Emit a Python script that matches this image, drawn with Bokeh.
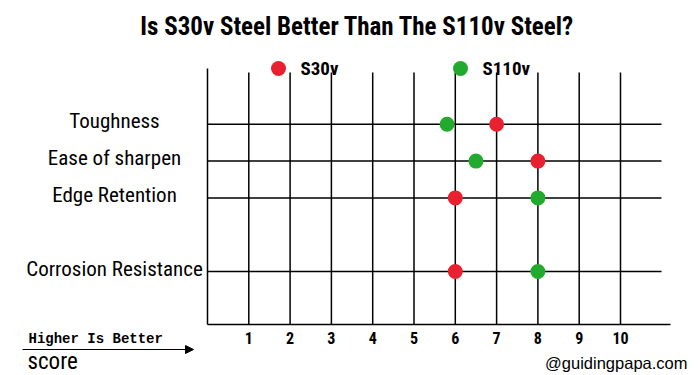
from bokeh.plotting import figure
from bokeh.models import Range1d, Label, Arrow, NormalHead
from bokeh.core.properties import value
from bokeh.embed import file_html
from bokeh.resources import INLINE

# ---------------- data ----------------
categories = ["Toughness", "Ease of sharpen", "Edge Retention", "Corrosion Resistance"]
s30v = [7, 8, 6, 6]
s110v = [5.8, 6.5, 8, 8]
score_ticks = [1, 2, 3, 4, 5, 6, 7, 8, 9, 10]
tick_labels = ["1", "2", "3", "4", "5", "6", "7", "8", "9", "10"]
series_names = ["S30v", "S110v"]
title_text = "Is S30v Steel Better Than The S110v Steel?"

# ---------------- layout ----------------
W, H = 700, 375
PX0, PXU = 207.0, 41.3     # canvas x of score 0, px per score unit
PY0, PYU = 326.2, 36.8     # canvas y of row-slot 0, px per slot


def dx(px):
    return (px - PX0) / PXU


def dy(py):
    return (PY0 - py) / PYU


row_y = [5.5, 4.5, 3.5, 1.5]   # slot of each category (gap above the last)

RED = "#e8202f"
GREEN = "#22aa2e"
F_COND = "Roboto Condensed"

p = figure(width=W, height=H, x_range=Range1d(dx(0), dx(W)),
           y_range=Range1d(dy(H), dy(0)), output_backend="svg",
           toolbar_location=None, min_border=0, x_axis_type=None,
           y_axis_type=None, outline_line_color=None)
p.grid.visible = False

axis_y = dy(324)
p.segment(x0=score_ticks, y0=[axis_y] * len(score_ticks), x1=score_ticks,
          y1=[dy(72)] * len(score_ticks), line_color="black", line_width=1.5)
p.segment(x0=[0], y0=[axis_y], x1=[0], y1=[dy(68)], line_color="black", line_width=1.5)
p.segment(x0=[0] * len(row_y), y0=row_y, x1=[dx(661)] * len(row_y), y1=row_y,
          line_color="black", line_width=1.5)
p.segment(x0=[0], y0=[axis_y], x1=[dx(670)], y1=[axis_y], line_color="black", line_width=1.5)

p.scatter(x=s110v, y=row_y, size=15, fill_color=GREEN, line_color=None)
p.scatter(x=s30v, y=row_y, size=15, fill_color=RED, line_color=None)

p.text(x=score_ticks, y=[dy(337)] * len(score_ticks), text=tick_labels,
       text_align="center", text_baseline="middle", text_font=value(F_COND),
       text_font_style="bold", text_font_size="16px", text_color="black")

p.text(x=[dx(114)] * len(categories), y=row_y, text=categories, y_offset=-3,
       text_align="center", text_baseline="middle", text_font=value(F_COND),
       text_font_size="21px", text_color="black")

p.scatter(x=[dx(278), dx(460)], y=[dy(68), dy(68)], size=15,
          fill_color=[RED, GREEN], line_color=None)
p.text(x=[dx(300), dx(482)], y=[dy(68), dy(68)], text=series_names,
       text_align="left", text_baseline="middle", text_font=value(F_COND),
       text_font_style="bold", text_font_size="19px", text_color="black")

p.add_layout(Label(x=dx(357), y=dy(26), text=title_text, text_align="center",
                   text_baseline="middle", text_font=F_COND, text_font_style="bold",
                   text_font_size="25px", text_color="black"))

p.add_layout(Label(x=dx(28), y=dy(338), text="Higher Is Better", text_align="left",
                   text_baseline="middle", text_font="Liberation Mono",
                   text_font_style="bold", text_font_size="14px", text_color="black"))
p.add_layout(Arrow(end=NormalHead(size=8, fill_color="black", line_color="black"),
                   x_start=dx(22), y_start=dy(349), x_end=dx(193), y_end=dy(349),
                   line_color="black", line_width=1.2))
p.add_layout(Label(x=dx(27), y=dy(361), text="score", text_align="left",
                   text_baseline="middle", text_font=F_COND,
                   text_font_size="23px", text_color="black"))

p.add_layout(Label(x=dx(687), y=dy(362), text="@guidingpapa.com", text_align="right",
                   text_baseline="middle", text_font="Liberation Sans",
                   text_font_size="16.5px", text_color="black"))

open("out.html", "w").write(file_html(p, INLINE))
